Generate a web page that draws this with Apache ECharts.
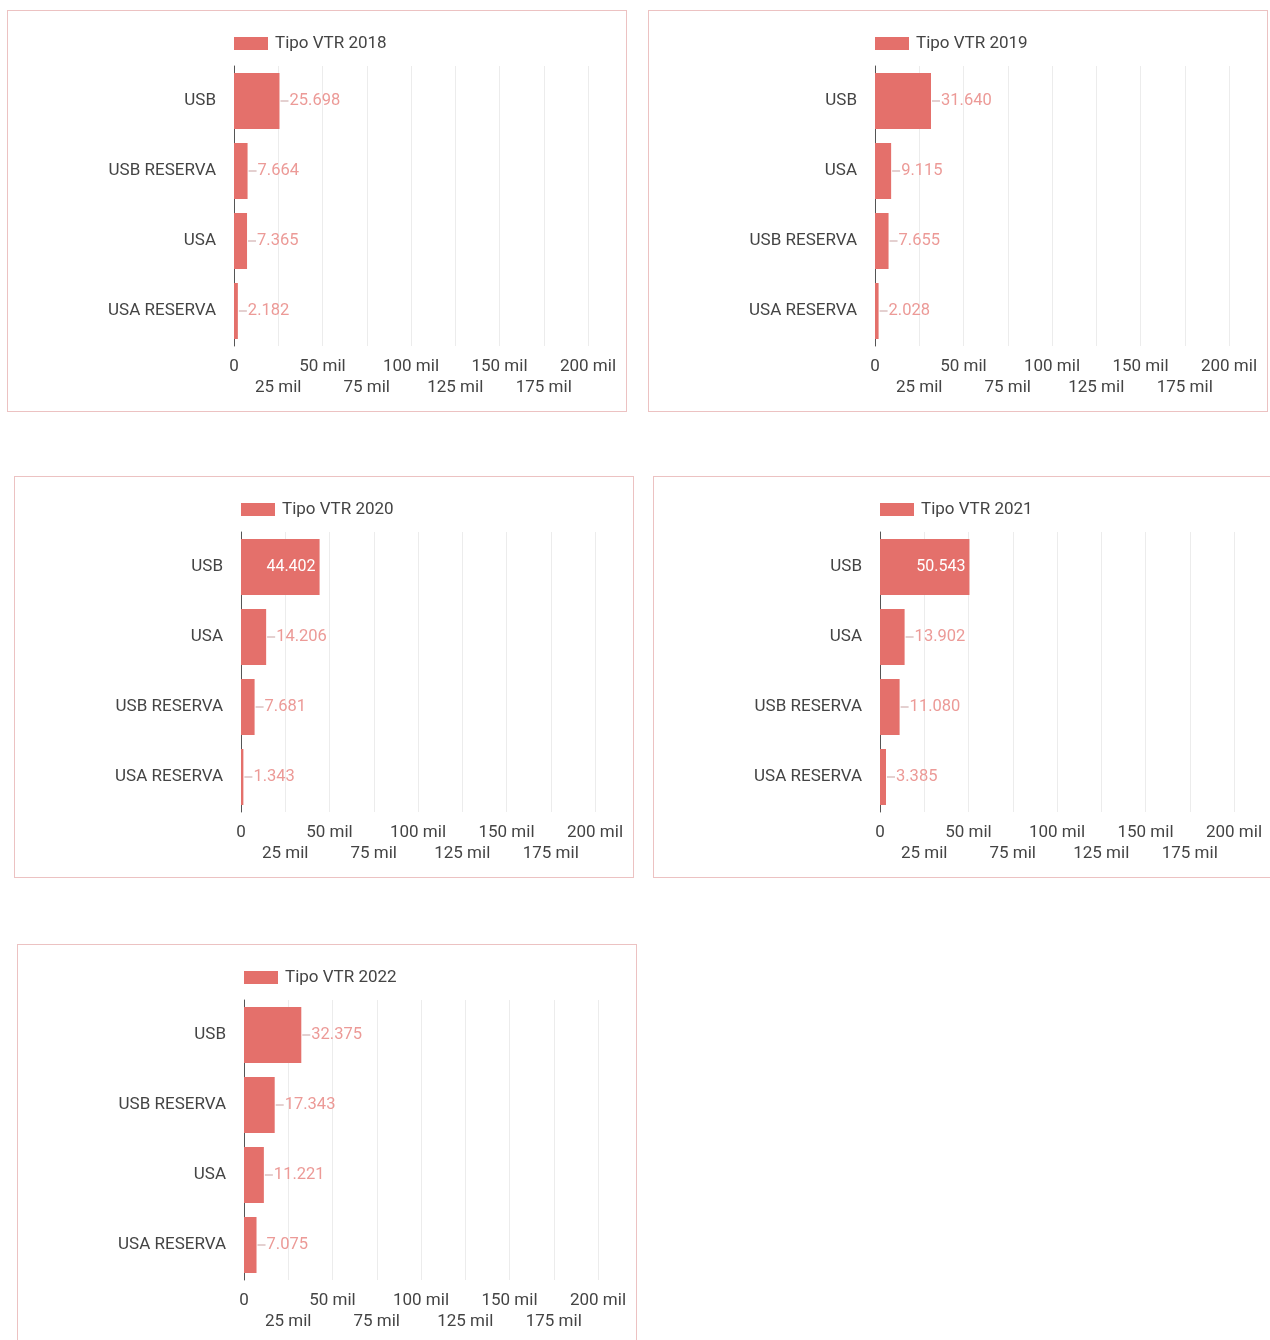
<!DOCTYPE html>
<html>
<head>
<meta charset="utf-8">
<script src="https://cdn.jsdelivr.net/npm/echarts@6/dist/echarts.min.js"></script>
<style>
  html, body { margin: 0; padding: 0; background: #ffffff; width: 1270px; height: 1340px; overflow: hidden; position: relative; }
  .panel { position: absolute; width: 620px; height: 402px; border: 1px solid #ecc2c2; box-sizing: border-box; background: #fff; }
</style>
</head>
<body>
<div id="p0" class="panel" style="left:7px; top:10px;"></div>
<div id="p1" class="panel" style="left:648px; top:10px;"></div>
<div id="p2" class="panel" style="left:14px; top:476px;"></div>
<div id="p3" class="panel" style="left:653px; top:476px;"></div>
<div id="p4" class="panel" style="left:17px; top:944px;"></div>
<script>
// ---- data ----
const titles2018 = 'Tipo VTR 2018';
const cats2018 = ['USB', 'USB RESERVA', 'USA', 'USA RESERVA'];
const vals2018 = [25698, 7664, 7365, 2182];

const titles2019 = 'Tipo VTR 2019';
const cats2019 = ['USB', 'USA', 'USB RESERVA', 'USA RESERVA'];
const vals2019 = [31640, 9115, 7655, 2028];

const titles2020 = 'Tipo VTR 2020';
const cats2020 = ['USB', 'USA', 'USB RESERVA', 'USA RESERVA'];
const vals2020 = [44402, 14206, 7681, 1343];

const titles2021 = 'Tipo VTR 2021';
const cats2021 = ['USB', 'USA', 'USB RESERVA', 'USA RESERVA'];
const vals2021 = [50543, 13902, 11080, 3385];

const titles2022 = 'Tipo VTR 2022';
const cats2022 = ['USB', 'USB RESERVA', 'USA', 'USA RESERVA'];
const vals2022 = [32375, 17343, 11221, 7075];

const axisMax = 200000;
const axisStep = 25000;

// ---- rendering ----
const panels = [
  ['p0', titles2018, cats2018, vals2018],
  ['p1', titles2019, cats2019, vals2019],
  ['p2', titles2020, cats2020, vals2020],
  ['p3', titles2021, cats2021, vals2021],
  ['p4', titles2022, cats2022, vals2022]
];

const BAR = '#e4706b';
const LABEL = '#ec9a97';
const FONT = 'Roboto, "Noto Sans", sans-serif';

function fmtNum(v) {
  return String(v).replace(/\B(?=(\d{3})+(?!\d))/g, '.');
}
function tickText(v) {
  return v === 0 ? '0' : (v / 1000) + ' mil';
}

function valueAxis(row) {
  // row 0: even ticks (0, 50, 100...), row 1: odd ticks (25, 75, ...)
  return {
    type: 'value',
    position: 'bottom',
    offset: row * 21,
    min: 0,
    max: axisMax,
    interval: axisStep,
    axisLine: { show: false },
    axisTick: { show: false },
    splitLine: { show: row === 0, lineStyle: { color: '#ececec', width: 1 } },
    axisLabel: {
      fontSize: 17,
      color: '#444',
      fontFamily: FONT,
      margin: 12,
      showMinLabel: true,
      showMaxLabel: true,
      formatter: (v) => (Math.round(v / axisStep) % 2 === row) ? tickText(v) : ''
    }
  };
}

panels.forEach(([id, title, cats, vals]) => {
  const chart = echarts.init(document.getElementById(id), null, { renderer: 'canvas' });
  const data = vals.map(v => {
    if (v > 40000) {
      return {
        value: v,
        label: {
          position: 'insideRight',
          formatter: p => fmtNum(p.value),
          color: '#ffffff',
          fontSize: 16,
          distance: 4
        }
      };
    }
    return { value: v };
  });
  chart.setOption({
    animation: false,
    textStyle: { fontFamily: FONT },
    legend: {
      left: 226,
      top: 24,
      padding: 0,
      itemWidth: 34,
      itemHeight: 13,
      itemGap: 8,
      icon: 'rect',
      textStyle: { fontSize: 17, color: '#444', fontFamily: FONT, padding: [0, 0, 0, 2] },
      data: [title]
    },
    grid: { left: 226, top: 55, width: 354, height: 280, containLabel: false },
    xAxis: [valueAxis(0), valueAxis(1)],
    yAxis: {
      type: 'category',
      inverse: true,
      data: cats,
      axisLine: { show: true, lineStyle: { color: '#555', width: 1 } },
      axisTick: { show: false },
      axisLabel: { fontSize: 17, color: '#444', fontFamily: FONT, margin: 18 }
    },
    series: [{
      name: title,
      type: 'bar',
      xAxisIndex: 0,
      data: data,
      barCategoryGap: '20%',
      itemStyle: { color: BAR },
      label: {
        show: true,
        position: 'right',
        distance: 1,
        fontFamily: FONT,
        fontSize: 16,
        color: LABEL,
        formatter: p => '{d| }{v|' + fmtNum(p.value) + '}',
        rich: {
          d: { width: 8, height: 1, backgroundColor: '#c9a0a0', verticalAlign: 'middle' },
          v: { fontSize: 16.5, color: LABEL, fontFamily: FONT, padding: [0, 0, 0, 1] }
        }
      }
    }]
  });
});
</script>
</body>
</html>
